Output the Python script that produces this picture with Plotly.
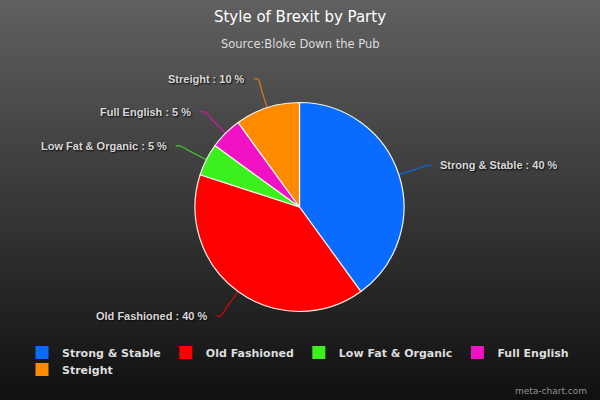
import math
import plotly.graph_objects as go

# ---- data ----
title = "Style of Brexit by Party"
subtitle = "Source:Bloke Down the Pub"
labels = ["Strong & Stable", "Old Fashioned", "Low Fat & Organic", "Full English", "Streight"]
values = [40, 40, 5, 5, 10]
colors = ["#0a6cff", "#ff0000", "#3cf01e", "#f012c4", "#ff8a00"]
credit = "meta-chart.com"

# ---- geometry / style ----
W, H = 600, 400
CX, CY, R = 299.5, 207.0, 104.5
DIST = 30
LABEL_FONT = dict(family="Liberation Sans", size=11, color="#d8d8d8", weight="bold",
                  shadow="1px 1px 2px rgba(0,0,0,0.9)")

fig = go.Figure()

# background vertical gradient (rgb(96,96,96) -> rgb(16,16,16))
n = 100
for i in range(n):
    t = (i + 0.5) / n
    g = round(96 + (16 - 96) * t)
    fig.add_shape(type="rect", xref="paper", yref="paper", x0=0, x1=1,
                  y0=max(0, 1 - (i + 1) / n - 0.003), y1=1 - i / n,
                  fillcolor=f"rgb({g},{g},{g})", line_width=0, layer="below")

# pie
fig.add_trace(go.Pie(
    labels=labels, values=values, sort=False, direction="clockwise", rotation=0,
    marker=dict(colors=colors, line=dict(color="#f3f3ea", width=1.2)),
    textinfo="none", showlegend=False,
    domain=dict(x=[(CX - R) / W, (CX + R) / W], y=[1 - (CY + R) / H, 1 - (CY - R) / H]),
    hovertemplate="%{label}: %{percent}<extra></extra>",
))

# connectors + outside labels, computed from the values
total = sum(values)
cum = 0
for lab, v, c in zip(labels, values, colors):
    mid = (cum + v / 2) / total * 2 * math.pi
    cum += v
    s, co = math.sin(mid), math.cos(mid)
    x0, y0 = CX + R * s, CY - R * co
    x1, y1 = CX + (R + DIST) * s, CY - (R + DIST) * co
    side = 1 if s >= 0 else -1
    x2 = x1 + side * 4
    xm, ym = CX + (R + 16) * s, CY - (R + 16) * co
    fig.add_trace(go.Scatter(
        x=[x0, xm, x1, x2], y=[y0, ym, y1, y1], mode="lines",
        line=dict(color=c, width=1.4, shape="spline"), opacity=0.7,
        xaxis="x", yaxis="y", showlegend=False, hoverinfo="skip"))
    fig.add_annotation(
        x=x2 + side * 7, y=y1, xref="x", yref="y",
        text=f"{lab} : {round(v / total * 100)} %", showarrow=False,
        xanchor="left" if side > 0 else "right", yanchor="middle", font=LABEL_FONT)

# legend entries (one per category)
for i, (lab, c) in enumerate(zip(labels, colors)):
    fig.add_trace(go.Scatter(
        x=[None], y=[None], mode="markers", name=lab,
        marker=dict(symbol="square", size=13, color=c),
        legend="legend" if i < 4 else "legend2",
        xaxis="x", yaxis="y", hoverinfo="skip"))

legend_common = dict(orientation="h", xanchor="left", yanchor="top",
                     bgcolor="rgba(0,0,0,0)", borderwidth=0,
                     font=dict(family="DejaVu Sans", size=11, color="#dddddd", weight="bold"),
                     itemclick=False, itemdoubleclick=False, traceorder="normal")

fig.update_layout(
    width=W, height=H,
    margin=dict(l=0, r=0, t=0, b=0),
    paper_bgcolor="rgb(16,16,16)",
    plot_bgcolor="rgba(0,0,0,0)",
    title=dict(text=title, x=0.5, xanchor="center", xref="paper",
               y=1 - 17 / H, yanchor="middle", yref="container",
               font=dict(family="DejaVu Sans", size=15, color="#ffffff")),
    xaxis=dict(range=[0, W], visible=False, fixedrange=True, domain=[0, 1]),
    yaxis=dict(range=[H, 0], visible=False, fixedrange=True, domain=[0, 1]),
    legend=dict(x=22 / W, y=1 - 338 / H, **legend_common),
    legend2=dict(x=22 / W, y=1 - 355 / H, **legend_common),
    showlegend=True,
)

fig.add_annotation(x=0.5, y=1 - 44.5 / H, xref="paper", yref="paper", text=subtitle,
                   showarrow=False, xanchor="center", yanchor="middle",
                   font=dict(family="DejaVu Sans", size=11.5, color="#dddddd"))
fig.add_annotation(x=589 / W, y=1 - 391 / H, xref="paper", yref="paper", text=credit,
                   showarrow=False, xanchor="right", yanchor="middle",
                   font=dict(family="DejaVu Sans", size=9, color="#909090"))

fig.write_html("out.html", config={"displayModeBar": False})
